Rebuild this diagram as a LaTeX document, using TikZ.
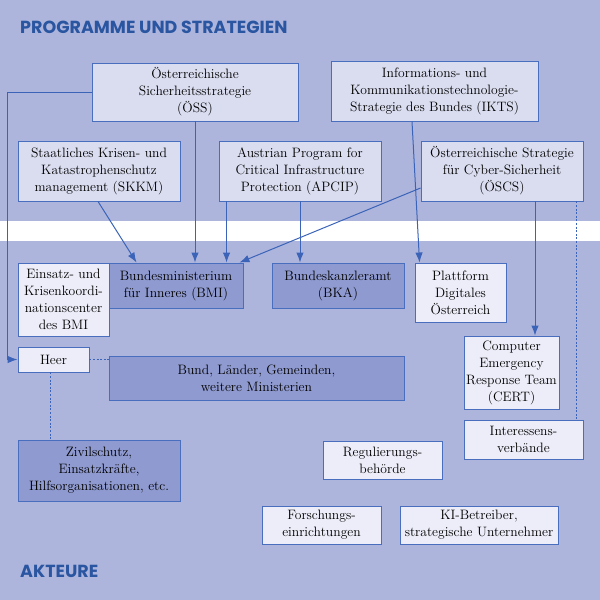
\documentclass[tikz,border=0pt]{standalone}
\usepackage{fontspec}
\newfontfamily\titlefont{Poppins}
\usetikzlibrary{arrows.meta}
\definecolor{bg}{HTML}{AEB5DD}
\definecolor{boxup}{HTML}{DADDF0}
\definecolor{boxlight}{HTML}{ECEDF8}
\definecolor{boxdark}{HTML}{8F9AD0}
\definecolor{edge}{HTML}{4A6EBE}
\definecolor{conn}{HTML}{3B64B8}
\definecolor{titleblue}{HTML}{2A55A0}
\tikzset{
  basebox/.style={draw=edge, line width=0.9pt, align=center, inner sep=0pt, text=black,
    font=\fontsize{13.6}{17}\selectfont},
  upbox/.style={basebox, fill=boxup},
  lightbox/.style={basebox, fill=boxlight},
  darkbox/.style={basebox, fill=boxdark},
  arr/.style={draw=conn, line width=1pt, -{Latex[length=10pt,width=7.5pt]}},
  plain/.style={draw=conn, line width=1pt},
  dotline/.style={draw=conn, line width=0.9pt, dash pattern=on 2pt off 1.6pt},
  heading/.style={font=\titlefont\bfseries\fontsize{17.5}{17.5}\selectfont, text=titleblue, inner sep=0pt, anchor=base west}
}
\begin{document}
\begin{tikzpicture}[x=1pt,y=-1pt]
\useasboundingbox (0,0) rectangle (600,600);
\fill[bg] (0,0) rectangle (600,600);
\fill[white] (0,221) rectangle (600,241);

\node[heading] (t1) at (20,33) {PROGRAMME UND STRATEGIEN};
\node[heading] (t2) at (20,577) {AKTEURE};

% upper boxes
\node[upbox, minimum width=206, minimum height=58] (oss) at (195,92) {Österreichische\\Sicherheitsstrategie\\(ÖSS)};
\node[upbox, minimum width=207, minimum height=60] (ikts) at (434.5,91) {Informations- und\\Kommunikationstechnologie-\\Strategie des Bundes (IKTS)};
\node[upbox, minimum width=162, minimum height=60] (skkm) at (99,171) {Staatliches Krisen- und\\Katastrophenschutz\\management (SKKM)};
\node[upbox, minimum width=162, minimum height=60] (apcip) at (300,171) {Austrian Program for\\Critical Infrastructure\\Protection (APCIP)};
\node[upbox, minimum width=162, minimum height=60] (oscs) at (502,171) {Österreichische Strategie\\für Cyber-Sicherheit\\(ÖSCS)};

% lower boxes
\node[lightbox, minimum width=91, minimum height=73] (ekc) at (63.5,299.5) {Einsatz- und\\Krisenkoordi-\\nationscenter\\des BMI};
\node[darkbox, minimum width=134, minimum height=45] (bmi) at (176,285.5) {Bundesministerium\\für Inneres (BMI)};
\node[darkbox, minimum width=132, minimum height=45] (bka) at (338,285.5) {Bundeskanzleramt\\(BKA)};
\node[lightbox, minimum width=91, minimum height=59] (pdo) at (460.5,292.5) {Plattform\\Digitales\\Österreich};
\node[lightbox, minimum width=71, minimum height=25] (heer) at (53.5,359.5) {Heer};
\node[darkbox, minimum width=295, minimum height=44] (bund) at (256.5,378) {Bund, Länder, Gemeinden,\\weitere Ministerien};
\node[lightbox, minimum width=95, minimum height=73] (cert) at (511.5,372.5) {Computer\\Emergency\\Response Team\\(CERT)};
\node[lightbox, minimum width=119, minimum height=39] (iv) at (523.5,439.5) {Interessens-\\verbände};
\node[lightbox, minimum width=119, minimum height=38] (reg) at (382.5,460) {Regulierungs-\\behörde};
\node[darkbox, minimum width=162, minimum height=61] (ziv) at (99,470.5) {Zivilschutz,\\Einsatzkräfte,\\Hilfsorganisationen, etc.};
\node[lightbox, minimum width=119, minimum height=38] (fe) at (321.5,525) {Forschungs-\\einrichtungen};
\node[lightbox, minimum width=158, minimum height=38] (ki) at (479,525) {KI-Betreiber,\\strategische Unternehmer};

% connectors
\coordinate (lft) at (7,0);
\draw[arr] (oss.west) -- (oss.west -| lft) |- (heer.west);
\draw[arr] (oss.south) -- (oss.south |- bmi.north);
\draw[arr] ([xshift=-1pt]skkm.south) -- ([xshift=28pt]bmi.north west);
\draw[arr] ([xshift=8pt]apcip.south west) -- ([xshift=8pt]apcip.south west |- bmi.north);
\draw[arr] ([yshift=-17pt]oscs.west) -- ([xshift=-4pt]bmi.north east);
\draw[arr] (apcip.south) -- (apcip.south |- bka.north);
\draw[arr] ([xshift=-22.5pt]ikts.south) -- ([xshift=5pt]pdo.north west);
\draw[arr] ([xshift=33pt]oscs.south) -- ([xshift=33pt]oscs.south |- cert.north);
\draw[dotline] ([xshift=-7pt]oscs.south east) -- ([xshift=-7pt]oscs.south east |- iv.north);
\draw[dotline] (heer.east) -- (heer.east -| bund.west);
\draw[dotline] ([xshift=-3.5pt]heer.south) -- ([xshift=-3.5pt]heer.south |- ziv.north);
\end{tikzpicture}
\end{document}
